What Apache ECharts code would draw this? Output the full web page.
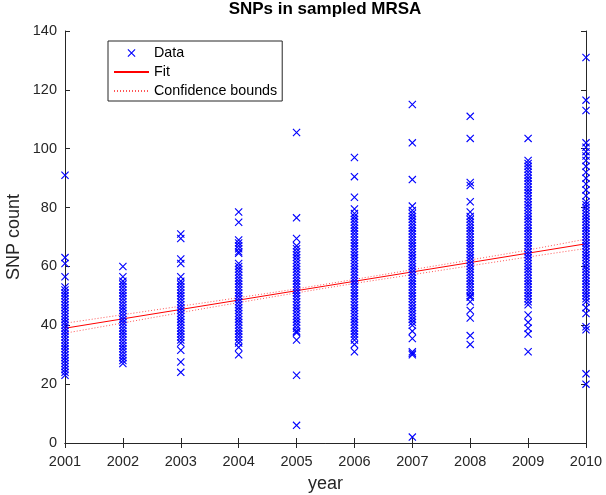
<!DOCTYPE html>
<html>
<head>
<meta charset="utf-8">
<script src="https://cdn.jsdelivr.net/npm/echarts@6/dist/echarts.min.js"></script>
<style>html,body{margin:0;padding:0;background:#fff}#c{width:606px;height:495px}</style>
</head>
<body>
<div id="c"></div>
<script>
var years = [2001, 2002, 2003, 2004, 2005, 2006, 2007, 2008, 2009, 2010];
var yTicks = [0, 20, 40, 60, 80, 100, 120, 140];

var snp2001 = [91, 63, 61, 56.5, 53, 52, 51, 50, 49, 48, 47, 46, 45, 44, 43, 42, 41, 40, 39, 38, 37, 36, 35, 34, 33, 32, 31, 30, 29, 28, 27, 26, 25, 24, 23];
var snp2002 = [60, 56.5, 55, 54, 53, 52, 51, 50, 49, 48, 47, 46, 45, 44, 43, 42, 41, 40, 39, 38, 37, 36, 35, 34, 33, 32, 31, 30, 29, 28, 27];
var snp2003 = [71, 69.5, 62.5, 61, 56.5, 55, 54, 53, 52, 51, 50, 49, 48, 47, 46, 45, 44, 43, 42, 41, 40, 39, 38, 37, 36, 35, 34, 31.5, 27.5, 24];
var snp2004 = [78.5, 75, 69, 68, 67, 66, 65, 64.5, 61, 60, 59, 58, 57, 56, 55, 54, 53, 52, 51, 50, 49, 48, 47, 46, 45, 44, 43, 42, 41, 40, 39, 38, 37, 36, 35, 34, 32.5, 30];
var snp2005 = [105.5, 76.5, 69.5, 67, 66, 65, 64, 63, 62, 61, 60, 59, 58, 57, 56, 55, 54, 53, 52, 51, 50, 49, 48, 47, 46, 45, 44, 43, 42, 41, 40, 39, 38, 37.5, 35, 23, 6];
var snp2006 = [97, 90.5, 83.5, 79.5, 78, 77, 76, 75, 74, 73, 72, 71, 70, 69, 68, 67, 66, 65, 64, 63, 62, 61, 60, 59, 58, 57, 56, 55, 54, 53, 52, 51, 50, 49, 48, 47, 46, 45, 44, 43, 42, 41, 40, 39, 38, 37, 36, 35, 33.5, 31];
var snp2007 = [115, 102, 89.5, 80.5, 79, 78, 77, 76, 75, 74, 73, 72, 71, 70, 69, 68, 67, 66, 65, 64, 63, 62, 61, 60, 59, 58, 57, 56, 55, 54, 53, 52, 51, 50, 49, 48, 47, 46, 45, 44, 43, 42, 41, 40, 38, 35.5, 31, 30.5, 30, 2];
var snp2008 = [111, 103.5, 88.5, 87.5, 82, 78.5, 77, 76, 75, 74, 73, 72, 71, 70, 69, 68, 67, 66, 65, 64, 63, 62, 61, 60, 59, 58, 57, 56, 55, 54, 53, 52, 51, 50, 49.5, 48, 45, 42.5, 36.5, 33.5];
var snp2009 = [103.5, 96, 95, 94, 93, 92, 91, 90, 89, 88, 87, 86, 85, 84, 83, 82, 81, 80, 79, 78, 77, 76, 75, 74, 73, 72, 71, 70, 69, 68, 67, 66, 65, 64, 63, 62, 61, 60, 59, 58, 57, 56, 55, 54, 53, 52, 51, 50, 49, 48, 47, 43.5, 41, 39, 37, 31];
var snp2010 = [131, 116.5, 113, 102, 100.5, 99, 97.5, 96, 94, 92, 90, 88, 86, 84, 82, 81, 80, 79, 78, 77, 76, 75, 74, 73, 72, 71, 70, 69, 68, 67, 66, 65, 64, 63, 62, 61, 60, 59, 58, 57, 56, 55, 54, 53, 52, 51, 50, 49, 48, 46, 44, 39.5, 38.5, 23.5, 20];
var snpByYear = [snp2001, snp2002, snp2003, snp2004, snp2005, snp2006, snp2007, snp2008, snp2009, snp2010];

var fitYears = [2001, 2010];
var fitValues = [39.0, 67.7];
var upperBound = [40.7, 43.6, 46.5, 49.4, 52.4, 55.6, 58.9, 62.2, 65.6, 69.3];
var lowerBound = [37.3, 40.8, 44.3, 47.7, 51.0, 54.2, 57.2, 60.2, 63.2, 66.1];

var scatterData = [];
snpByYear.forEach(function (arr, i) {
  arr.forEach(function (v) { scatterData.push([years[i], v]); });
});
var fitData = fitYears.map(function (y, i) { return [y, fitValues[i]]; });
var upData = years.map(function (y, i) { return [y, upperBound[i]]; });
var loData = years.map(function (y, i) { return [y, lowerBound[i]]; });

var FONT = 'Liberation Sans, Arial, Helvetica, sans-serif';
var AX = '#262626';
var BLUE = '#0000ff';
// filled "x" glyph (two thin diagonal bars)
var xMark = 'path://M0,1L1,0L10,9L9,10Z M9,0L10,1L1,10L0,9Z';

var chart = echarts.init(document.getElementById('c'), null, {renderer: 'canvas'});
chart.setOption({
  animation: false,
  backgroundColor: '#fff',
  title: {
    text: 'SNPs in sampled MRSA',
    left: 325, top: 1, padding: 0, textAlign: 'center',
    textStyle: {fontFamily: FONT, fontSize: 17, fontWeight: 'bold', color: '#000'}
  },
  grid: {left: 65, right: 20, top: 31, bottom: 52, containLabel: false, outerBoundsMode: 'none'},
  legend: {
    left: 108, top: 41, orient: 'vertical',
    padding: [5, 5, 3, 5], itemGap: 5, itemWidth: 35, itemHeight: 8,
    borderColor: AX, borderWidth: 1, backgroundColor: '#fff',
    textStyle: {fontFamily: FONT, fontSize: 14.3, color: '#000'},
    data: [
      {name: 'Data'},
      {name: 'Fit', itemStyle: {opacity: 0}},
      {name: 'Confidence bounds', itemStyle: {opacity: 0}}
    ]
  },
  xAxis: [{
    type: 'value', min: 2001, max: 2010, interval: 1,
    name: 'year', nameLocation: 'middle', nameGap: 32,
    nameTextStyle: {fontFamily: FONT, fontSize: 18, color: AX},
    axisLine: {show: true, lineStyle: {color: AX}},
    axisTick: {show: true, inside: true, length: 5, lineStyle: {color: AX}},
    axisLabel: {fontFamily: FONT, fontSize: 14.5, color: AX, margin: 11, formatter: function (v) { return String(v); }},
    splitLine: {show: false}
  }, {
    type: 'value', min: 2001, max: 2010, interval: 1, position: 'top',
    axisLine: {show: true, lineStyle: {color: AX}},
    axisTick: {show: true, inside: true, length: 5, lineStyle: {color: AX}},
    axisLabel: {show: false}, splitLine: {show: false}
  }],
  yAxis: [{
    type: 'value', min: yTicks[0], max: yTicks[yTicks.length - 1], interval: 20,
    name: 'SNP count', nameLocation: 'middle', nameGap: 42, nameMoveOverlap: false,
    nameTextStyle: {fontFamily: FONT, fontSize: 18, color: AX},
    axisLine: {show: true, lineStyle: {color: AX}},
    axisTick: {show: true, inside: true, length: 5, lineStyle: {color: AX}},
    axisLabel: {fontFamily: FONT, fontSize: 14.5, color: AX, margin: 8},
    splitLine: {show: false}
  }, {
    type: 'value', min: 0, max: 140, interval: 20, position: 'right',
    axisLine: {show: true, lineStyle: {color: AX}},
    axisTick: {show: true, inside: true, length: 5, lineStyle: {color: AX}},
    axisLabel: {show: false}, splitLine: {show: false}
  }],
  series: [{
    name: 'Data', type: 'scatter', data: scatterData,
    symbol: xMark, symbolSize: 8,
    itemStyle: {color: BLUE, borderWidth: 0, opacity: 1},
    emphasis: {disabled: true},
    clip: false, z: 5
  }, {
    name: 'Fit', type: 'line', data: fitData, symbol: 'none',
    lineStyle: {color: '#ff0000', width: 1}, itemStyle: {color: '#ff0000'},
    emphasis: {disabled: true}, z: 4
  }, {
    name: 'Confidence bounds', type: 'line', data: upData, symbol: 'none', smooth: true,
    lineStyle: {color: '#ff5555', width: 1, type: [1, 2]}, itemStyle: {color: '#ff5555'},
    emphasis: {disabled: true}, z: 3
  }, {
    name: 'Confidence bounds', type: 'line', data: loData, symbol: 'none', smooth: true,
    lineStyle: {color: '#ff5555', width: 1, type: [1, 2]}, itemStyle: {color: '#ff5555'},
    emphasis: {disabled: true}, z: 3
  }]
});
</script>
</body>
</html>
